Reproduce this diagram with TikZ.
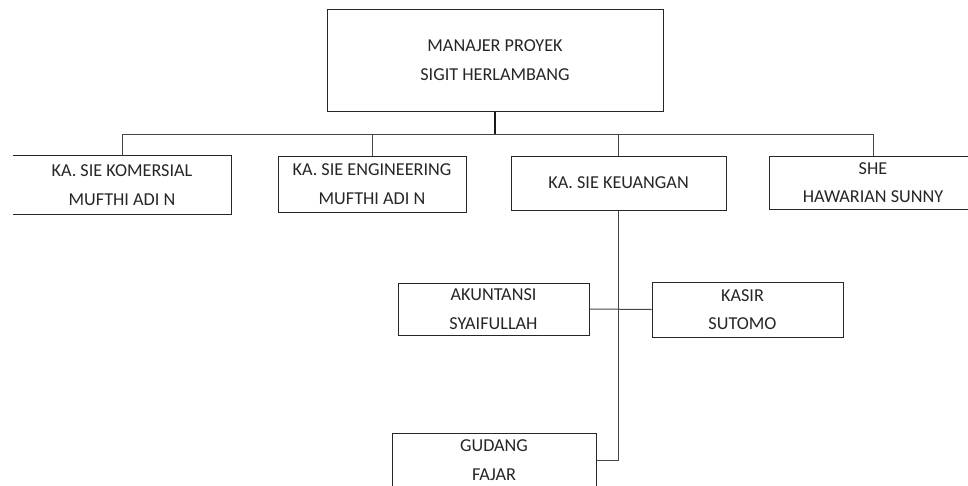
\documentclass[tikz,border=0pt]{standalone}
\usepackage{fontspec}
\setmainfont{Carlito}
\begin{document}
\begin{tikzpicture}[x=1pt,y=-1pt,
  box/.style={draw=black!85,line width=1pt,rectangle,align=center,inner sep=0pt,
    text=black!85,font=\fontsize{18.2}{28.5}\selectfont},
  openbox/.style={box,draw=none},
  link/.style={draw=black!72,line width=1pt},
  trunk/.style={draw=black!90,line width=1.8pt}]
\useasboundingbox (0,0) rectangle (968,485);
\clip (0,0) rectangle (968,485);
\fill[white] (0,0) rectangle (968,485);
\node[box,minimum width=336pt,minimum height=102pt] (mp) at (495,60) {MANAJER PROYEK\\SIGIT HERLAMBANG};
\node[openbox,minimum width=218pt,minimum height=58pt] (kom) at (122,185) {KA. SIE KOMERSIAL\\MUFTHI ADI N};
\node[box,minimum width=188pt,minimum height=56pt] (eng) at (372,184) {KA. SIE ENGINEERING\\MUFTHI ADI N};
\node[box,minimum width=215pt,minimum height=54pt] (keu) at (618.5,183) {KA. SIE KEUANGAN};
\node[box,minimum width=208pt,minimum height=53pt] (she) at (873,182.5) {SHE\\HAWARIAN SUNNY};
\node[box,minimum width=191pt,minimum height=52pt] (aku) at (493.5,309) {AKUNTANSI\\SYAIFULLAH};
\node[box,minimum width=191pt,minimum height=55pt] (kas) at (747.5,309.5) {\hspace*{-10pt}KASIR\\\hspace*{-10pt}SUTOMO};
\node[box,minimum width=204pt,minimum height=54pt] (gud) at (494,460) {GUDANG\\FAJAR};
\draw[draw=black!85,line width=1pt] (kom.north west) -- (kom.north east) -- (kom.south east) -- (kom.south west);
\coordinate (bus) at (0,134);
\draw[trunk] (mp.south) -- (mp.south |- bus);
\draw[link] (kom.north) |- (bus -| she.north) -- (she.north);
\draw[link] (eng.north) -- (eng.north |- bus);
\draw[link] (keu.north) -- (keu.north |- bus);
\draw[link] (keu.south) |- (gud.east);
\draw[link] (aku.east) -- (kas.west);
\end{tikzpicture}
\end{document}
